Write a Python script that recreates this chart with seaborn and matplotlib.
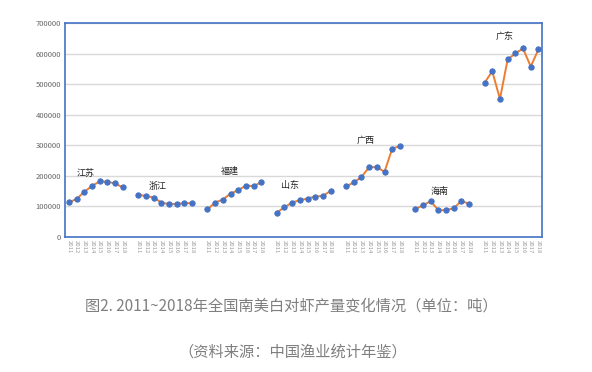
import numpy as np
import pandas as pd
import matplotlib
matplotlib.use("Agg")
import matplotlib.pyplot as plt
import seaborn as sns

# data (tonnes)
years = ["2011", "2012", "2013", "2014", "2015", "2016", "2017", "2018"]
provinces = ["江苏", "浙江", "福建", "山东", "广西", "海南", "广东"]
jiangsu = [113000, 124700, 147700, 167300, 181600, 181000, 175000, 161900]
zhejiang = [137800, 134500, 129000, 112700, 107200, 108300, 110500, 110500]
fujian = [90800, 112700, 122500, 142200, 153100, 168400, 166300, 179400]
shandong = [79800, 97300, 112700, 120300, 125800, 132300, 134500, 150900]
guangxi = [165200, 178300, 195800, 228600, 228600, 213300, 288800, 297500]
hainan = [90800, 103900, 117000, 87500, 87500, 94100, 118100, 108300]
guangdong = [504200, 542500, 451700, 580800, 600500, 616900, 557800, 613600]
series = [jiangsu, zhejiang, fujian, shandong, guangxi, hainan, guangdong]

# province label placement (x offset inside group, y value)
label_dx = [2.2, 2.5, 2.9, 1.7, 2.6, 3.1, 2.6]
label_y = [209000, 166300, 215500, 169600, 317200, 149900, 651700]

sns.set_theme(style="white")
plt.rcParams["font.family"] = ["Noto Sans CJK SC", "DejaVu Sans"]

line_color = "#ED7D31"
dot_color = "#4472C4"
frame_color = "#4472C4"

rows = []
for g, (name, vals) in enumerate(zip(provinces, series)):
    for k, (yr, v) in enumerate(zip(years, vals)):
        rows.append({"province": name, "year": yr, "pos": g * 9 + k, "value": v})
df = pd.DataFrame(rows)
n_slots = len(provinces) * 9 - 1

fig = plt.figure(figsize=(5.92, 3.72), dpi=100)
ax = fig.add_axes([0.110, 0.363, 0.806, 0.575])

for g, name in enumerate(provinces):
    sub = df[df["province"] == name]
    sns.lineplot(data=sub, x="pos", y="value", ax=ax, color=line_color,
                 linewidth=1.4, marker="o", markersize=3.8,
                 markerfacecolor=dot_color, markeredgecolor=dot_color)
    ax.text(g * 9 + label_dx[g], label_y[g], name, fontsize=6.5,
            ha="center", va="center", color="#222222")

ax.set_xlim(-0.5, n_slots - 0.5)
ax.set_ylim(0, 700000)
ax.set_yticks(np.arange(0, 700001, 100000))
ax.set_yticklabels([str(v) for v in range(0, 700001, 100000)], fontsize=5.5, color="#666666")
ax.yaxis.grid(True, color="#d9d9d9", linewidth=1)
ax.set_axisbelow(True)

# category boundaries as tick marks, year labels at the centres
ax.set_xticks(np.arange(-0.5, n_slots, 1.0))
ax.set_xticklabels([])
ax.set_xticks(df["pos"], minor=True)
ax.set_xticklabels(df["year"], minor=True, rotation=-90, fontsize=4.3, color="#9a9a9a")
ax.tick_params(axis="x", which="major", length=3.5, width=0.8, color=frame_color, direction="out")
ax.tick_params(axis="x", which="minor", length=0, pad=2)
ax.tick_params(axis="y", length=0, pad=3)
ax.set_xlabel("")
ax.set_ylabel("")

for sp in ax.spines.values():
    sp.set_color(frame_color)
    sp.set_linewidth(1.2)

fig.text(0.492, 0.177, "图2. 2011~2018年全国南美白对虾产量变化情况（单位：吨）",
         ha="center", va="center", fontsize=11, color="#7f7f7f")
fig.text(0.495, 0.054, "（资料来源：中国渔业统计年鉴）",
         ha="center", va="center", fontsize=11, color="#7f7f7f")

fig.savefig("out.png", dpi=100)
